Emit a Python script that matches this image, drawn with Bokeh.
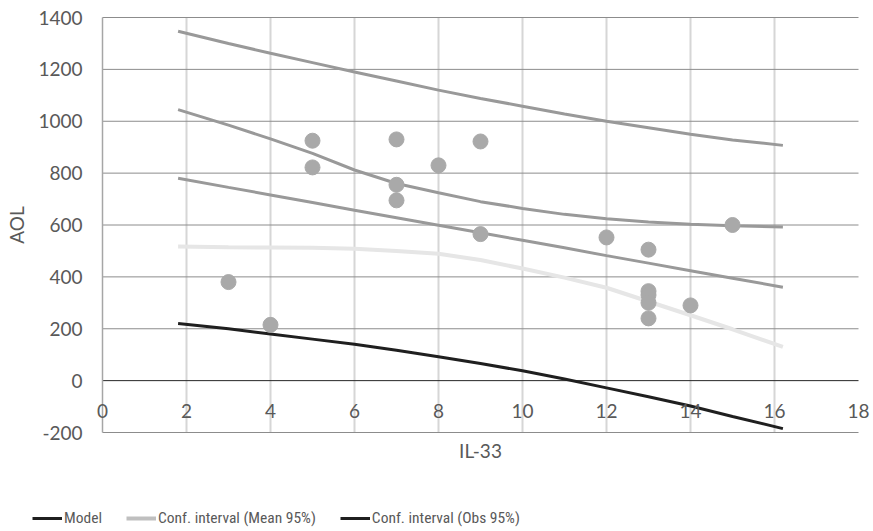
import math
from bokeh.plotting import figure
from bokeh.models import Legend, LegendItem
from bokeh.core.properties import value
from bokeh.embed import file_html
from bokeh.resources import INLINE

# ---- data ----
pts_x = [3, 4, 5, 5, 7, 7, 7, 8, 9, 9, 12, 13, 13, 13, 13, 13, 14, 15]
pts_y = [380, 215, 925, 822, 930, 755, 695, 830, 922, 565, 552, 505, 345, 330, 300, 240, 290, 600]

curve_x = [1.8, 3, 4, 5, 6, 7, 8, 9, 10, 11, 12, 13, 14, 15, 16.2]
model = [780, 745, 716, 687, 657, 628, 599, 570, 541, 512, 482, 453, 424, 395, 360]
mean_upper = [1045, 985, 932, 876, 812, 760, 724, 690, 664, 641, 624, 612, 603, 597, 592]
mean_lower = [517, 514, 513, 512, 508, 500, 489, 465, 432, 397, 358, 305, 252, 198, 130]
obs_upper = [1347, 1300, 1262, 1226, 1190, 1155, 1120, 1088, 1058, 1028, 1000, 975, 950, 928, 907]
obs_lower = [220, 200, 180, 160, 140, 117, 92, 66, 38, 6, -28, -62, -98, -138, -185]

x_ticks = [0, 2, 4, 6, 8, 10, 12, 14, 16, 18]
y_ticks = [-200, 0, 200, 400, 600, 800, 1000, 1200, 1400]
x_title = "IL-33"
y_title = "AOL"
legend_labels = ["Model", "Conf. interval (Mean 95%)", "Conf. interval (Obs 95%)"]

FONT = "Lato"
LEG_FONT = "'Liberation Sans Narrow', 'Roboto Condensed', Lato"
TXT = "#595959"
W, H = 873, 531
# pixel placement of the plot area inside the canvas
PX_L, PX_R, PX_T, PX_B = 102, 858, 17, 432

xmin, xmax = x_ticks[0], x_ticks[-1]
ymin, ymax = y_ticks[0], y_ticks[-1]
sx = (PX_R - PX_L) / (xmax - xmin)
sy = (PX_B - PX_T) / (ymax - ymin)
x_range = (xmin - PX_L / sx, xmax + (W - PX_R) / sx)
y_range = (ymin - (H - PX_B) / sy, ymax + PX_T / sy)

p = figure(width=W, height=H, x_range=x_range, y_range=y_range,
           x_axis_type=None, y_axis_type=None,
           output_backend="svg", toolbar_location=None, min_border=0)
p.outline_line_color = None
p.background_fill_color = "white"
p.grid.visible = False

# vertical grid lines (light)
vx = x_ticks[1:-1]
p.segment(x0=vx, x1=vx, y0=[ymin] * len(vx), y1=[ymax] * len(vx),
          line_color="#d6d6d6", line_width=2)
# horizontal grid lines
hy = [t for t in y_ticks if t != 0]
p.segment(x0=[xmin] * len(hy), x1=[xmax] * len(hy), y0=hy, y1=hy,
          line_color="#8c8c8c", line_width=1)
# zero line (x axis)
p.segment(x0=[xmin], x1=[xmax], y0=[0], y1=[0], line_color="#262626", line_width=1)
# y axis line
p.segment(x0=[xmin], x1=[xmin], y0=[ymin], y1=[ymax], line_color="#a6a6a6", line_width=1.5)

# curves
p.line(curve_x, obs_upper, line_color="#999999", line_width=3)
p.line(curve_x, mean_upper, line_color="#999999", line_width=3)
p.line(curve_x, model, line_color="#999999", line_width=3)
p.line(curve_x, mean_lower, line_color="#e6e6e6", line_width=4)
p.line(curve_x, obs_lower, line_color="#1f1f1f", line_width=3)

# points
p.scatter(pts_x, pts_y, size=15, fill_color="#a9a9a9", line_color="#a9a9a9")

# tick labels
p.text(x=x_ticks, y=[0] * len(x_ticks), text=[str(t) for t in x_ticks],
       y_offset=30, text_align="center", text_baseline="middle",
       text_font=value(FONT), text_font_size="19px", text_color=TXT)
p.text(x=[xmin] * len(y_ticks), y=y_ticks, text=[str(t) for t in y_ticks],
       x_offset=-20, text_align="right", text_baseline="middle",
       text_font=value(FONT), text_font_size="19px", text_color=TXT)
# axis titles
p.text(x=[(xmin + xmax) / 2], y=[ymin], text=[x_title], y_offset=18,
       text_align="center", text_baseline="middle",
       text_font=value(FONT), text_font_size="19px", text_color=TXT)
p.text(x=[xmin], y=[(ymin + ymax) / 2], text=[y_title], x_offset=-86,
       angle=math.pi / 2, text_align="center", text_baseline="middle",
       text_font=value(FONT), text_font_size="19px", text_color=TXT)

# legend (hidden-data renderers carrying the legend colours)
nan = [math.nan]
r1 = p.line(nan, nan, line_color="#1f1f1f", line_width=3)
r2 = p.line(nan, nan, line_color="#bfbfbf", line_width=4)
r3 = p.line(nan, nan, line_color="#1f1f1f", line_width=3)
legend = Legend(items=[LegendItem(label=legend_labels[0], renderers=[r1]),
                       LegendItem(label=legend_labels[1], renderers=[r2]),
                       LegendItem(label=legend_labels[2], renderers=[r3])],
                orientation="horizontal", location=(32, 4),
                glyph_width=30, glyph_height=16, label_height=16,
                label_standoff=2, spacing=24, padding=0, margin=0,
                label_text_font=LEG_FONT, label_text_font_size="15.5px",
                label_text_color=TXT, background_fill_alpha=0,
                border_line_color=None)
p.add_layout(legend, "center")

open("out.html", "w").write(file_html(p, INLINE))
